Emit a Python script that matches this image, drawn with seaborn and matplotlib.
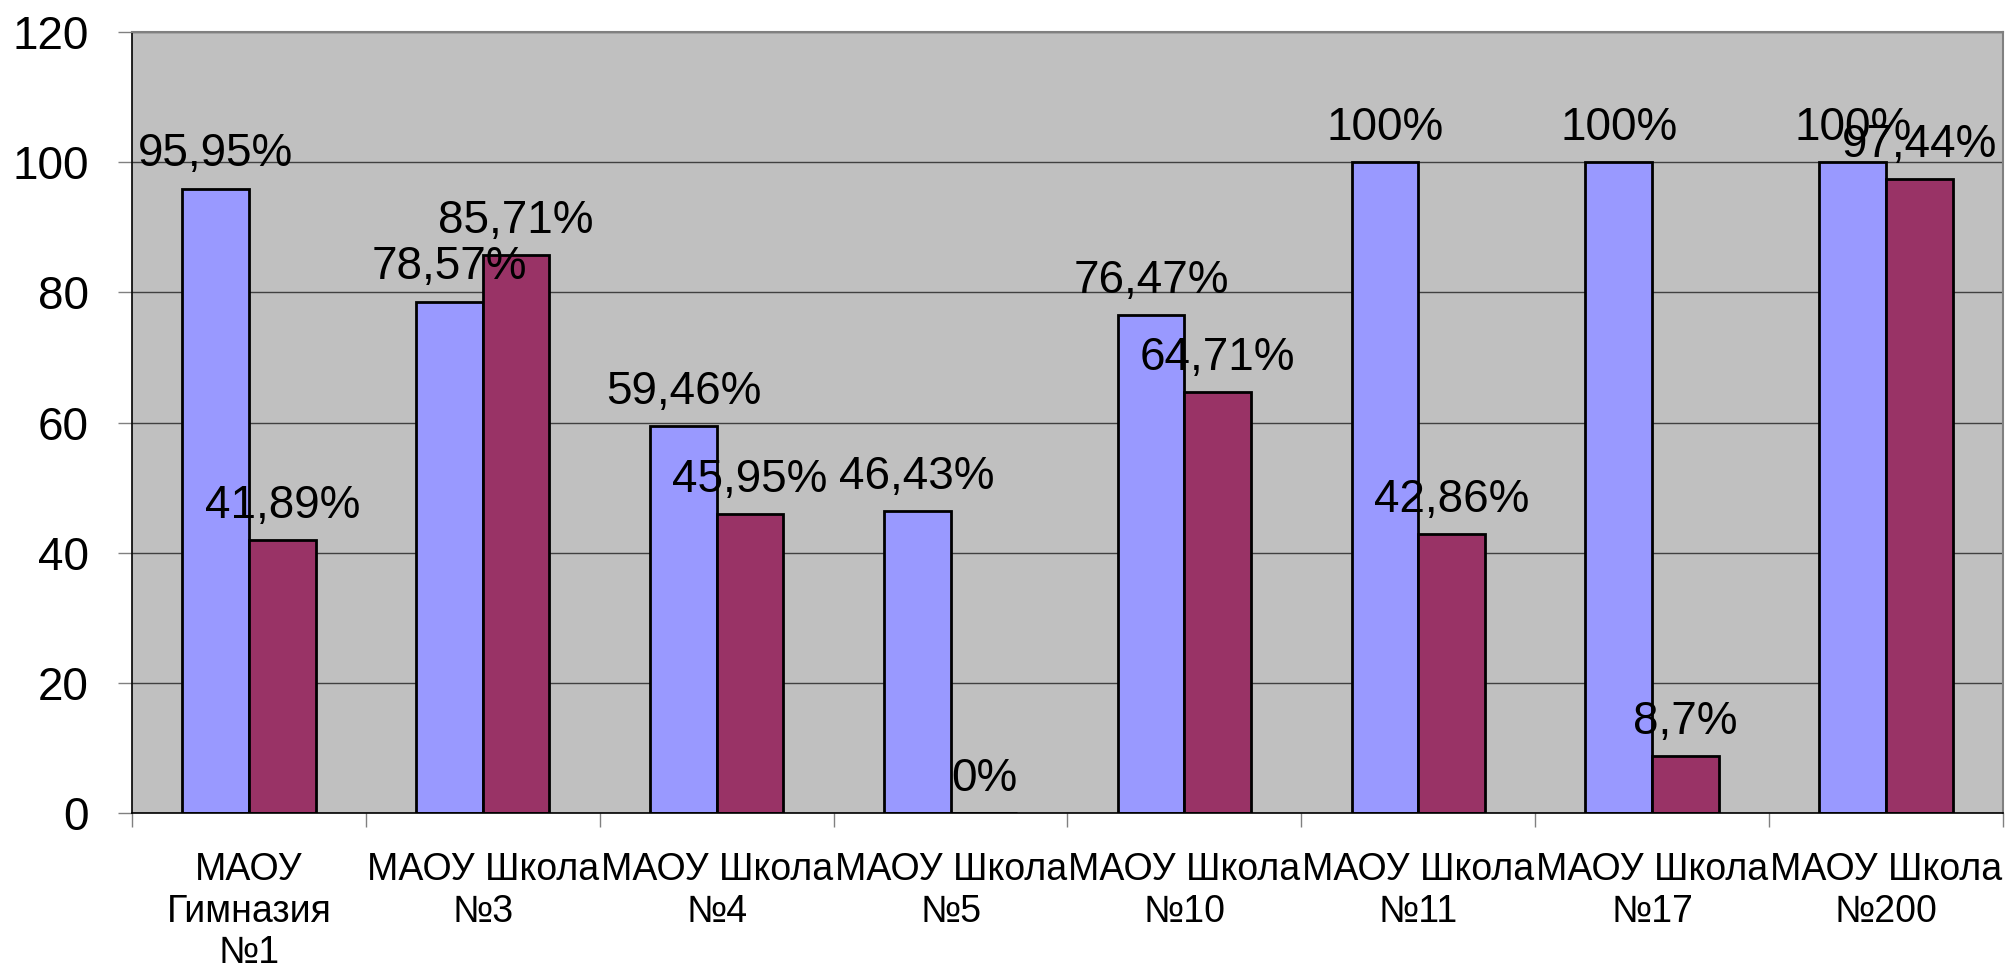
import pandas as pd
import seaborn as sns
import matplotlib.pyplot as plt

# данные со снимка
schools = ["МАОУ\nГимназия\n№1", "МАОУ Школа\n№3", "МАОУ Школа\n№4", "МАОУ Школа\n№5",
           "МАОУ Школа\n№10", "МАОУ Школа\n№11", "МАОУ Школа\n№17", "МАОУ Школа\n№200"]
series_1 = [95.95, 78.57, 59.46, 46.43, 76.47, 100, 100, 100]
series_2 = [41.89, 85.71, 45.95, 0, 64.71, 42.86, 8.7, 97.44]
series_names = ["Ряд 1", "Ряд 2"]
colors = ["#9999FF", "#993366"]

df = pd.DataFrame({
    "school": schools * 2,
    "value": series_1 + series_2,
    "series": [series_names[0]] * len(schools) + [series_names[1]] * len(schools),
})

sns.set_style("white")
plt.rcParams['font.family'] = ['Liberation Sans', 'DejaVu Sans']

fig = plt.figure(figsize=(20.13, 9.71), dpi=100)
ax = fig.add_axes([0.0656, 0.1627, 0.9294, 0.8043])
ax.set_facecolor("#C0C0C0")

sns.barplot(data=df, x="school", y="value", hue="series", palette=colors,
            width=0.57, edgecolor="black", linewidth=2, saturation=1,
            legend=False, ax=ax)

# подписи значений над столбиками
for cont in ax.containers:
    for bar in cont:
        h = bar.get_height()
        txt = f"{h:g}".replace(".", ",") + "%"
        ax.annotate(txt, (bar.get_x() + bar.get_width() / 2, h),
                    xytext=(0, 16), textcoords="offset points",
                    ha="center", va="baseline", fontsize=33, color="black")

ax.set_ylim(0, 120)
ax.set_xlim(-0.5, len(schools) - 0.5)
ax.set_yticks(range(0, 121, 20))
ax.yaxis.grid(True, color="#404040", linewidth=1)
ax.set_axisbelow(True)
ax.set_xlabel("")
ax.set_ylabel("")

ax.tick_params(axis="y", labelsize=33, labelcolor="black", length=10, width=1,
               color="#808080", pad=21, left=True)
ax.set_xticks(range(len(schools)))
ax.set_xticklabels(schools, fontsize=27)
ax.set_xticks([i - 0.5 for i in range(len(schools) + 1)], minor=True)
ax.tick_params(axis="x", which="major", length=0, pad=28, labelcolor="black")
ax.tick_params(axis="x", which="minor", length=10, width=1, color="#808080", bottom=True)

for side in ["top", "right"]:
    ax.spines[side].set_color("#808080")
    ax.spines[side].set_linewidth(1.5)
for side in ["left", "bottom"]:
    ax.spines[side].set_color("black")
    ax.spines[side].set_linewidth(1.2)

fig.savefig("out.png", dpi=100)
